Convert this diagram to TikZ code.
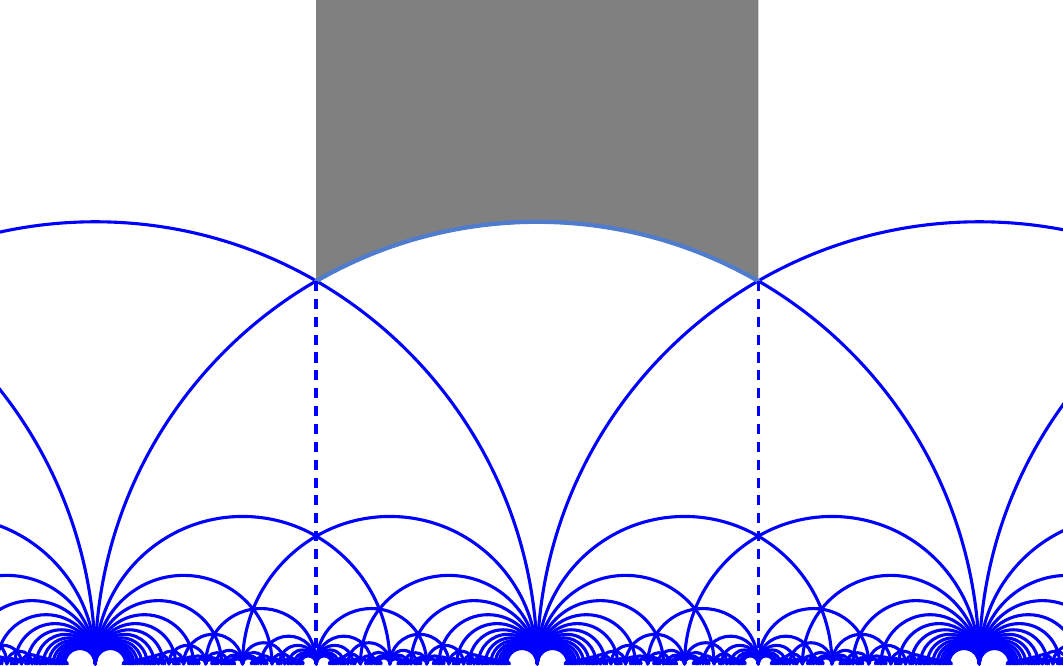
\documentclass[tikz,border=0pt]{standalone}
\definecolor{arcblue}{RGB}{80,124,206}
\begin{document}
\begin{tikzpicture}[x=4cm, y=4cm, line join=round, line cap=round]
	\tikzset{geod/.style={blue, line width=0.8pt}, halfline/.style={blue, line width=0.9pt, line cap=butt, dash pattern=on 2.6pt off 2pt}}
	\useasboundingbox (-1.2155,-0.003) rectangle (1.1895,1.5018);
	\clip (-1.2155,-0.003) rectangle (1.1895,1.5018);
	\path (-0.5,{sqrt(3)/2}) coordinate (L) (0.5,{sqrt(3)/2}) coordinate (R)
		(-0.5,0) coordinate (L0) (0.5,0) coordinate (R0)
		(-0.5,1.6) coordinate (LT) (0.5,1.6) coordinate (RT);
	% geodesics p/q -- r/s with qr-ps=2, denominators up to \N
	\def\N{29}
	\foreach \q in {1,...,\N}{
		\pgfmathtruncatemacro{\pa}{floor(-1.2155*\q)-2}
		\pgfmathtruncatemacro{\pb}{floor(1.1895*\q)}
		\foreach \p in {\pa,...,\pb}{
			\foreach \s in {1,...,\N}{
				\ifnum\numexpr\q*\s\relax<250
				\ifnum\numexpr\q*((2+\p*\s)/\q)\relax=\numexpr2+\p*\s\relax
					\edef\rr{\the\numexpr(2+\p*\s)/\q\relax}
					\ifodd\numexpr(\p+1)*(\q+1)\relax\else
						\ifodd\numexpr(\rr+1)*(\s+1)\relax\else
							\draw[geod] ({\rr/\s},0) arc (0:180:{1/(\q*\s)});
						\fi
					\fi
				\fi
				\fi
			}
		}
	}
	\fill[gray] (LT)--(L) arc (120:60:1)--(RT)--cycle;
	\draw[arcblue, line width=1.1pt] (L) arc (120:60:1);
	\draw[halfline] (L)--(L0) (R)--(R0);
\end{tikzpicture}
\end{document}
